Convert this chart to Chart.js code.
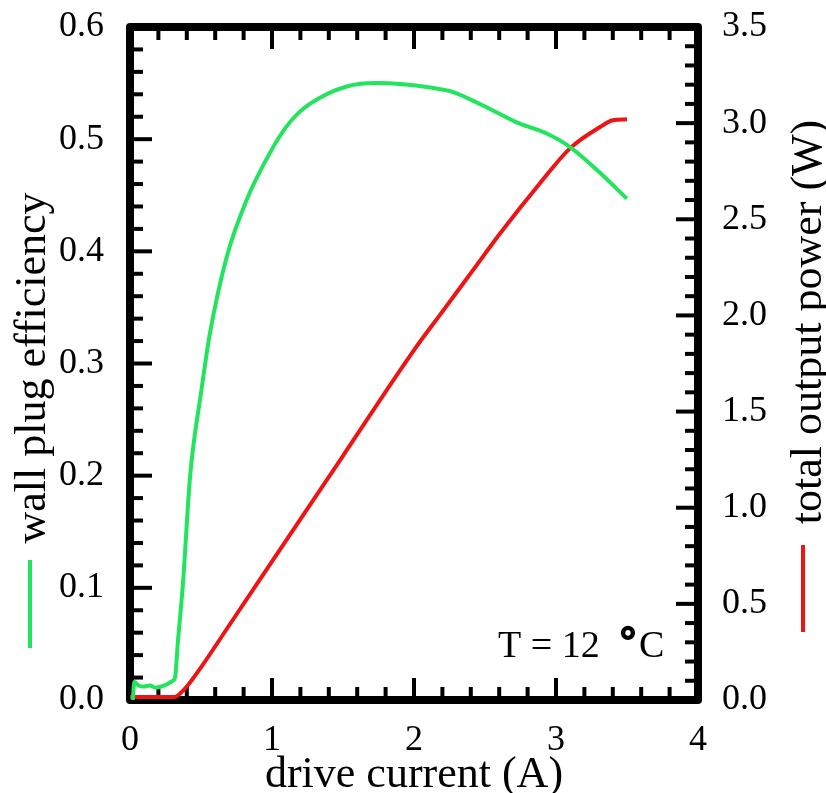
<!DOCTYPE html>
<html>
<head>
<meta charset="utf-8">
<script src="https://cdn.jsdelivr.net/npm/chart.js@4"></script>
<style>
  html, body { margin: 0; padding: 0; background: #ffffff; }
  canvas { display: block; }
</style>
</head>
<body>
<canvas id="grafico" width="826" height="793"></canvas>
<script>
// =====================================================
// DATOS
// =====================================================

// wall plug efficiency (eje izquierdo)
const effCurrent = [0.02, 0.03, 0.06, 0.10, 0.14, 0.18, 0.22, 0.26, 0.30, 0.317,
  0.338, 0.373, 0.423, 0.505, 0.563, 0.681, 0.822, 0.986, 1.10, 1.20, 1.338,
  1.526, 1.737, 1.923, 2.113, 2.275, 2.486, 2.723, 2.934, 3.099, 3.31, 3.498];
const effValues = [0.0, 0.016, 0.013, 0.012, 0.013, 0.011, 0.012, 0.014, 0.017, 0.020,
  0.053, 0.104, 0.199, 0.278, 0.327, 0.395, 0.446, 0.488, 0.511, 0.525, 0.537,
  0.547, 0.550, 0.549, 0.546, 0.542, 0.530, 0.515, 0.505, 0.493, 0.470, 0.447];

// total output power (eje derecho)
const powCurrent = [0.0, 0.30, 0.33, 0.40, 0.50, 0.70, 0.90, 1.10, 1.50, 2.00,
  2.20, 2.40, 2.61, 2.89, 3.10, 3.31, 3.40, 3.50];
const powValues = [0.015, 0.015, 0.02, 0.07, 0.17, 0.39, 0.61, 0.83, 1.27, 1.82,
  2.02, 2.22, 2.43, 2.69, 2.87, 2.98, 3.015, 3.02];

const xTicks = [0, 1, 2, 3, 4];
const effTicks = [0, 0.1, 0.2, 0.3, 0.4, 0.5, 0.6];
const powTicks = [0, 0.5, 1.0, 1.5, 2.0, 2.5, 3.0, 3.5];

const VERDE = "#22e45e";
const ROJO = "#ee1414";
const FUENTE = "'Liberation Serif', 'Times New Roman', serif";

// =====================================================
// MARCO, TICKS HACIA ADENTRO Y TEXTOS
// =====================================================

const marcoPlugin = {
  id: "marco",

  // el marco va debajo de las curvas
  beforeDatasetsDraw(chart) {
    const ctx = chart.ctx;
    const a = chart.chartArea;
    const sx = chart.scales.x;
    const sy = chart.scales.y;
    const sy1 = chart.scales.y1;
    const mayor = 22, menor = 13;

    ctx.save();
    ctx.strokeStyle = "#000";
    ctx.lineCap = "butt";

    // ticks eje x (abajo y arriba)
    ctx.lineWidth = 4;
    for (let i = 0; i <= 20; i++) {
      const px = sx.getPixelForValue(i * 0.2);
      const len = (i % 5 === 0) ? mayor : menor;
      ctx.beginPath();
      ctx.moveTo(px, a.bottom); ctx.lineTo(px, a.bottom - len);
      ctx.moveTo(px, a.top); ctx.lineTo(px, a.top + len);
      ctx.stroke();
    }
    // ticks eje izquierdo
    for (let i = 0; i <= 30; i++) {
      const py = sy.getPixelForValue(i * 0.02);
      const len = (i % 5 === 0) ? mayor : menor;
      ctx.beginPath();
      ctx.moveTo(a.left, py); ctx.lineTo(a.left + len, py);
      ctx.stroke();
    }
    // ticks eje derecho
    for (let i = 0; i <= 35; i++) {
      const py = sy1.getPixelForValue(i * 0.1);
      const len = (i % 5 === 0) ? mayor : menor;
      ctx.beginPath();
      ctx.moveTo(a.right, py); ctx.lineTo(a.right - len, py);
      ctx.stroke();
    }

    ctx.lineWidth = 8;
    ctx.lineJoin = "round";
    ctx.strokeRect(a.left, a.top, a.right - a.left, a.bottom - a.top);
    ctx.restore();
  },

  afterDraw(chart) {
    const ctx = chart.ctx;
    const a = chart.chartArea;

    ctx.save();

    // titulos de ejes
    ctx.fillStyle = "#000";
    ctx.font = "44px " + FUENTE;
    ctx.textAlign = "center";
    ctx.textBaseline = "alphabetic";
    ctx.fillText("drive current (A)", (a.left + a.right) / 2, 787);

    ctx.save();
    ctx.translate(45, 368);
    ctx.rotate(-Math.PI / 2);
    ctx.fillText("wall plug efficiency", 0, 0);
    ctx.restore();

    ctx.save();
    ctx.translate(821, 322);
    ctx.rotate(-Math.PI / 2);
    ctx.fillText("total output power (W)", 0, 0);
    ctx.restore();

    // lineas de leyenda
    ctx.lineWidth = 4;
    ctx.strokeStyle = VERDE;
    ctx.beginPath(); ctx.moveTo(30, 560); ctx.lineTo(30, 648); ctx.stroke();
    ctx.strokeStyle = ROJO;
    ctx.beginPath(); ctx.moveTo(803, 545); ctx.lineTo(803, 632); ctx.stroke();

    // anotacion de temperatura
    ctx.font = "38px " + FUENTE;
    ctx.textAlign = "left";
    ctx.fillStyle = "#000";
    ctx.fillText("T = 12", 498, 657);
    ctx.font = "bold 40px " + FUENTE;
    ctx.lineWidth = 2;
    ctx.strokeStyle = "#000";
    ctx.fillText("°", 620, 654);
    ctx.strokeText("°", 620, 654);
    ctx.font = "38px " + FUENTE;
    ctx.fillText("C", 639, 657);

    ctx.restore();
  }
};

// sin relleno extra por las etiquetas: el area del grafico queda fija
function sinRelleno(s) {
  s.paddingTop = 0;
  s.paddingBottom = 0;
  s.paddingLeft = 0;
  s.paddingRight = 0;
}

// =====================================================
// GRAFICO
// =====================================================

const ctx = document.getElementById("grafico").getContext("2d");

new Chart(ctx, {
  type: "line",
  data: {
    datasets: [
      {
        label: "wall plug efficiency",
        data: effCurrent.map((x, i) => ({ x: x, y: effValues[i] })),
        borderColor: VERDE,
        borderWidth: 4,
        pointRadius: 0,
        cubicInterpolationMode: "monotone",
        yAxisID: "y"
      },
      {
        label: "total output power (W)",
        data: powCurrent.map((x, i) => ({ x: x, y: powValues[i] })),
        borderColor: ROJO,
        borderWidth: 4,
        pointRadius: 0,
        cubicInterpolationMode: "monotone",
        yAxisID: "y1"
      }
    ]
  },
  options: {
    responsive: false,
    animation: false,
    devicePixelRatio: 1,
    layout: { padding: { top: 27, left: 0, right: 0, bottom: 0 } },
    plugins: {
      legend: { display: false },
      tooltip: { enabled: false }
    },
    scales: {
      x: {
        type: "linear",
        min: 0,
        max: 4,
        afterFit: s => { s.height = 93; sinRelleno(s); },
        afterBuildTicks: s => { s.ticks = xTicks.map(v => ({ value: v })); },
        grid: { display: false },
        border: { display: false },
        ticks: {
          padding: 11,
          color: "#000",
          font: { family: FUENTE, size: 36 },
          callback: v => String(v)
        }
      },
      y: {
        position: "left",
        min: 0,
        max: 0.6,
        afterFit: s => { s.width = 130; sinRelleno(s); },
        afterBuildTicks: s => { s.ticks = effTicks.map(v => ({ value: v })); },
        grid: { display: false },
        border: { display: false },
        ticks: {
          padding: 18,
          color: "#000",
          font: { family: FUENTE, size: 36 },
          callback: v => Number(v).toFixed(1)
        }
      },
      y1: {
        position: "right",
        min: 0,
        max: 3.5,
        afterFit: s => { s.width = 128; sinRelleno(s); },
        afterBuildTicks: s => { s.ticks = powTicks.map(v => ({ value: v })); },
        grid: { display: false },
        border: { display: false },
        ticks: {
          padding: 16,
          color: "#000",
          font: { family: FUENTE, size: 36 },
          callback: v => Number(v).toFixed(1)
        }
      }
    }
  },
  plugins: [marcoPlugin]
});
</script>
</body>
</html>
